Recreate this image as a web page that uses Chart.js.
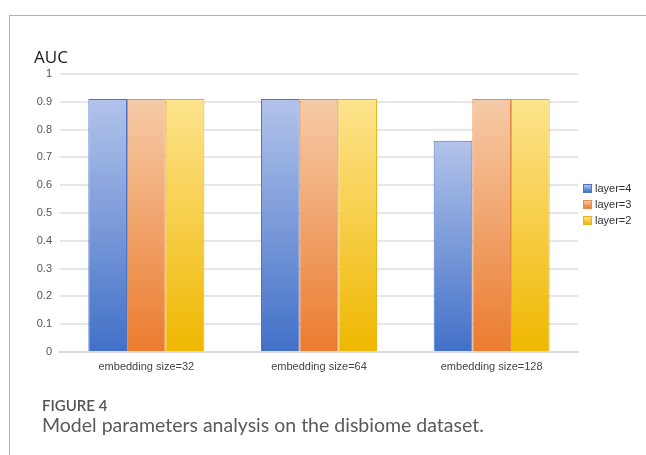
<!DOCTYPE html>
<html>
<head>
<meta charset="utf-8">
<script src="https://cdn.jsdelivr.net/npm/chart.js@4.4.1/dist/chart.umd.min.js"></script>
<style>
  html, body { margin: 0; padding: 0; background: #fff; }
  #page { position: relative; width: 646px; height: 455px; overflow: hidden; }
  #frameTop { position: absolute; left: 9px; top: 15px; width: 637px; height: 1px; background: #b3b3b3; }
  #frameLeft { position: absolute; left: 9px; top: 15px; width: 1px; height: 440px; background: #b3b3b3; }
  #chartBox { position: absolute; left: 0; top: 0; width: 646px; height: 455px; }
  #axisTitle { position: absolute; left: 34px; top: 45px; font: 17px "Open Sans", sans-serif; color: #1a1a1a; line-height: 24px; }
  #legend { position: absolute; left: 583px; top: 180px; font: 11px "Liberation Sans", Arial, sans-serif; color: #333; }
  .item { height: 16px; display: flex; align-items: center; white-space: nowrap; }
  .swatch { width: 7px; height: 7px; margin-right: 3px; border: 1px solid; }
  #figLabel { position: absolute; left: 42px; top: 395px; font: 600 15px Lato, sans-serif; color: #555; line-height: 20px; }
  #caption { position: absolute; left: 42px; top: 413px; font: 19.5px Lato, sans-serif; color: #5a5a5a; line-height: 24px; }
</style>
</head>
<body>
<div id="page">
  <div id="frameTop"></div>
  <div id="frameLeft"></div>
  <div id="chartBox"><canvas id="c" width="646" height="455"></canvas></div>
  <div id="axisTitle">AUC</div>
  <div id="legend"></div>
  <div id="figLabel">FIGURE 4</div>
  <div id="caption">Model parameters analysis on the disbiome dataset.</div>
</div>
<script>
// Categories and AUC values per number of layers
const categories = ['embedding size=32', 'embedding size=64', 'embedding size=128'];
const seriesNames = ['layer=4', 'layer=3', 'layer=2'];
const layer4 = [0.91, 0.91, 0.76];
const layer3 = [0.91, 0.91, 0.91];
const layer2 = [0.91, 0.91, 0.91];
const yTicks = [0, 0.1, 0.2, 0.3, 0.4, 0.5, 0.6, 0.7, 0.8, 0.9, 1];

// Colour ramps: [top, bottom, border]
const palette = [
  ['#b2c3ea', '#4270c8', '#4a74c6'],
  ['#f6cba8', '#eb7b2e', '#e98a4a'],
  ['#fde48e', '#efb700', '#e9b61a']
];

function barGradient(idx) {
  return function (context) {
    const chart = context.chart;
    const area = chart.chartArea;
    const col = palette[idx];
    if (!area || context.type !== 'data') return col[1];
    const y = chart.scales.y;
    const top = y.getPixelForValue(context.raw);
    const bottom = y.getPixelForValue(0);
    const g = chart.ctx.createLinearGradient(0, top, 0, bottom);
    g.addColorStop(0, col[0]);
    g.addColorStop(1, col[1]);
    return g;
  };
}

const seriesValues = [layer4, layer3, layer2];
const datasets = seriesValues.map((vals, i) => ({
  label: seriesNames[i],
  data: vals,
  backgroundColor: barGradient(i),
  borderColor: palette[i][2],
  borderWidth: 1,
  borderSkipped: 'bottom',
  categoryPercentage: 0.672,
  barPercentage: 1.0
}));

// Legend built from the series names
const legendEl = document.getElementById('legend');
seriesNames.forEach((name, i) => {
  const item = document.createElement('div');
  item.className = 'item';
  const sw = document.createElement('span');
  sw.className = 'swatch';
  sw.style.background = 'linear-gradient(' + palette[i][0] + ',' + palette[i][1] + ')';
  sw.style.borderColor = palette[i][2];
  const tx = document.createElement('span');
  tx.textContent = name;
  item.appendChild(sw);
  item.appendChild(tx);
  legendEl.appendChild(item);
});

new Chart(document.getElementById('c'), {
  type: 'bar',
  data: { labels: categories, datasets: datasets },
  options: {
    responsive: false,
    animation: false,
    events: [],
    layout: { padding: { left: 10, right: 68, top: 74, bottom: 73 } },
    plugins: { legend: { display: false }, tooltip: { enabled: false }, title: { display: false } },
    scales: {
      x: {
        grid: { display: false },
        border: { display: true, color: '#dcdcdc', width: 2 },
        ticks: { color: '#444', font: { family: '"Liberation Sans", Arial, sans-serif', size: 11 }, padding: 0, maxRotation: 0 },
        afterFit: (s) => { s.height = 30; }
      },
      y: {
        min: 0, max: 1,
        afterBuildTicks: (s) => { s.ticks = yTicks.map(v => ({ value: v })); },
        grid: { color: '#e6e6e6', lineWidth: 2, drawTicks: false },
        border: { display: false },
        ticks: {
          color: '#555',
          font: { family: '"Liberation Sans", Arial, sans-serif', size: 11 },
          padding: 8,
          callback: (v) => String(Number(v.toFixed(1)))
        },
        afterFit: (s) => { s.width = 50; }
      }
    }
  }
});
</script>
</body>
</html>
